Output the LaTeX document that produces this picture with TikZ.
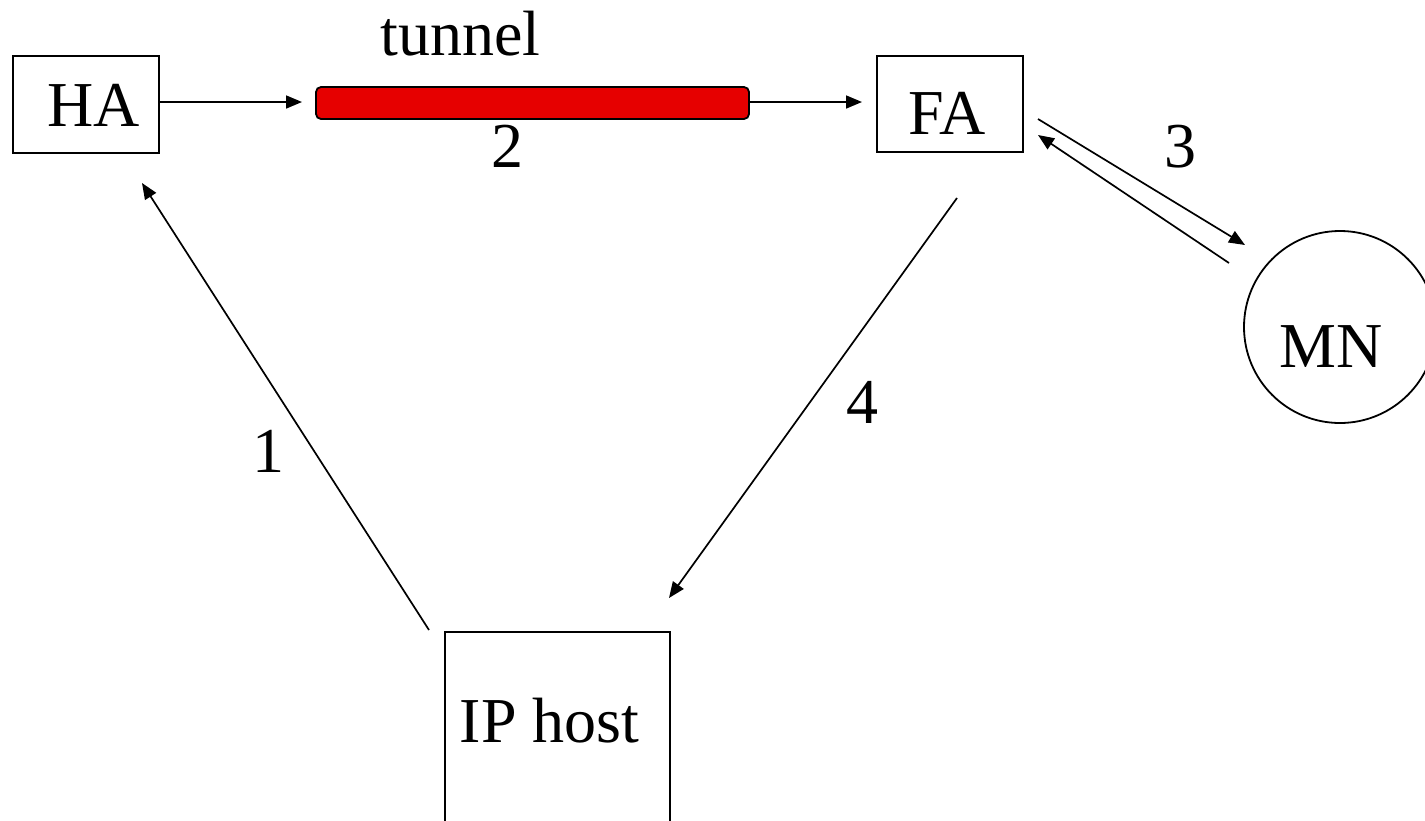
\documentclass[tikz,border=0pt]{standalone}
\usepackage{fontspec}
\setmainfont{Liberation Serif}
\usetikzlibrary{arrows.meta}
\definecolor{tunnelred}{RGB}{230,0,0}
\tikzset{
  box/.style={draw=black, line width=1.8pt, inner sep=0pt, anchor=north west},
  lbl/.style={font=\fontsize{64}{72}\selectfont, inner sep=0pt, anchor=base},
  flow/.style={line width=1.7pt, -{Triangle[length=16pt,width=13pt]}},
}
\begin{document}
\begin{tikzpicture}[x=1pt,y=-1pt]
  \useasboundingbox (0,0) rectangle (1425,820);
  \clip (0,0) rectangle (1425,820);

  % boxes
  \node[box, minimum width=146pt, minimum height=97pt] (ha) at (12,55) {};
  \node[box, minimum width=146pt, minimum height=96pt] (fa) at (876,55) {};
  \node[box, minimum width=225pt, minimum height=220pt] (ip) at (444,631) {};
  \node[draw=black, line width=1.8pt, circle, minimum size=192pt, inner sep=0pt] (mn) at (1340,327) {};

  % tunnel bar
  \node[draw=black, line width=1.8pt, fill=tunnelred, rounded corners=5pt,
        minimum width=433pt, minimum height=32pt, inner sep=0pt] (tun) at (532.5,103) {};

  % labels
  \node[lbl] (haT) at (93.5,126) {HA};
  \node[lbl] (faT) at (947,134) {FA};
  \node[lbl] (mnT) at (1331,367) {MN};
  \node[lbl] (ipT) at (549.5,742) {IP host};
  \node[lbl] (tunT) at (460.5,55) {tunnel};
  \node[lbl] (n2) at (507.5,167) {2};
  \node[lbl] (n3) at (1180,167) {3};
  \node[lbl] (n4) at (862,423) {4};
  \node[lbl] (n1) at (268,472) {1};

  % free ends of the connectors
  \coordinate (c1s) at (429,630);
  \coordinate (c1e) at (142,183);
  \coordinate (c3as) at (1038,119);
  \coordinate (c3ae) at (1245,245);
  \coordinate (c3bs) at (1229,263);
  \coordinate (c3be) at (1038,135);
  \coordinate (c4s) at (957,198);
  \coordinate (c4e) at (669,598);
  \coordinate (tunin) at (302,102);
  \coordinate (fain) at (862,102);

  % connectors
  \draw[flow] (ha.east |- tunin) -- (tunin);
  \draw[flow] (tun.east |- fain) -- (fain);
  \draw[flow] (c3as) -- (c3ae);
  \draw[flow] (c3bs) -- (c3be);
  \draw[flow] (c4s) -- (c4e);
  \draw[flow] (c1s) -- (c1e);
\end{tikzpicture}
\end{document}
